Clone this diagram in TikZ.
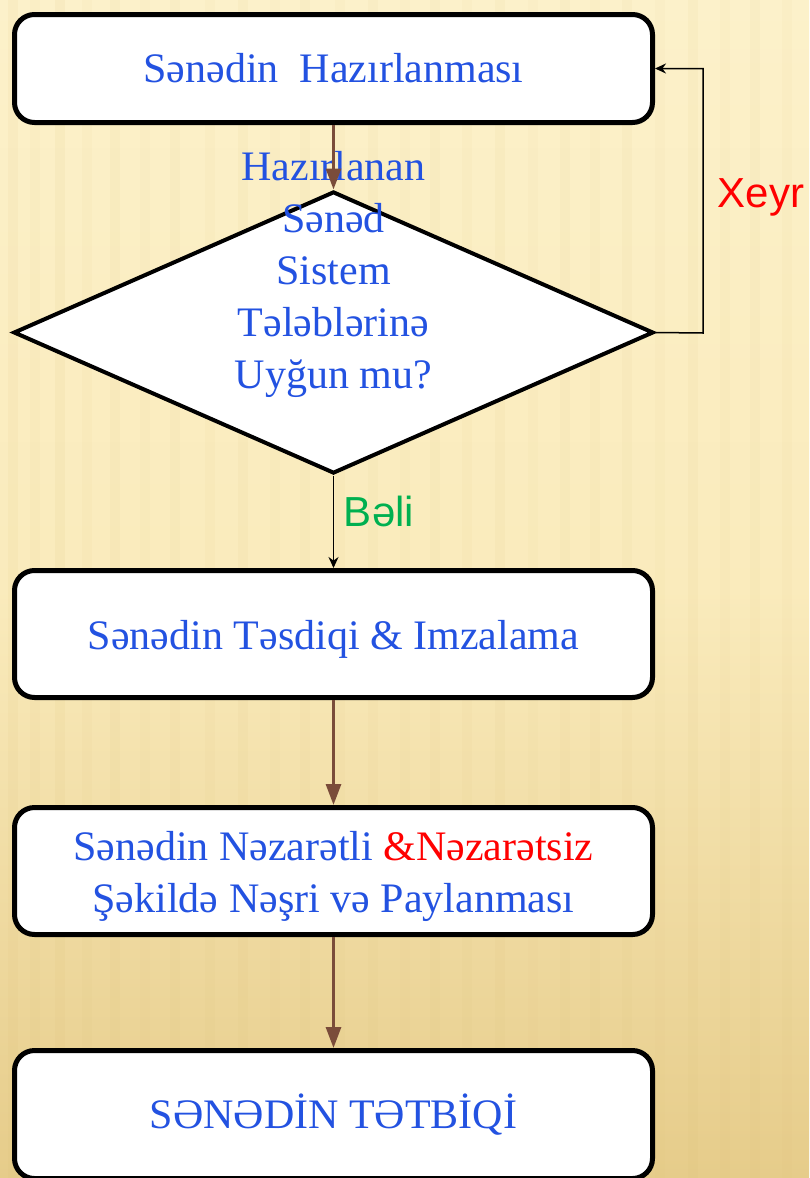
\documentclass[tikz,border=0pt]{standalone}
\usepackage{fontspec}
\setmainfont{Liberation Serif}
\newfontfamily\lsans{Liberation Sans}
\usetikzlibrary{shapes.geometric,arrows.meta}
\definecolor{txtblue}{RGB}{35,82,225}
\definecolor{arrbrown}{RGB}{122,76,58}
\definecolor{okgreen}{RGB}{0,176,80}
\definecolor{bgtop}{RGB}{252,241,202}
\definecolor{bgmid}{RGB}{250,235,188}
\definecolor{bgbot}{RGB}{230,204,138}
\definecolor{stripe}{RGB}{215,185,110}
\newcommand{\lowerit}[1]{\raisebox{-5pt}[\height][\depth]{#1}}
\tikzset{
  stepbox/.style={draw=black, fill=white, line width=5pt, rounded corners=20pt,
    minimum width=638pt, inner sep=0pt, align=center, text=txtblue,
    font=\fontsize{42}{52}\selectfont},
  decision/.style={draw=black, fill=white, line width=4pt, diamond, inner sep=0pt,
    minimum width=640pt, minimum height=282pt},
  brownarrow/.style={draw=arrbrown, line width=3pt, -{Triangle[length=21pt,width=15pt]}, arrbrown},
  thinarrow/.style={draw=black, line width=1.5pt, -{Stealth[length=11pt,width=10pt]}},
  lbl/.style={font=\lsans\fontsize{42}{50}\selectfont}
}
\begin{document}
\begin{tikzpicture}[x=1pt,y=-1pt]
\useasboundingbox (0,0) rectangle (809,1178);
% background
\shade[top color=bgtop, bottom color=bgbot, middle color=bgmid] (0,0) rectangle (809,1178);
\foreach \x/\o in {8/0.08,30/0.05,55/0.09,82/0.05,110/0.07,140/0.04,170/0.06,205/0.05,238/0.07,270/0.04,300/0.06,335/0.05,368/0.06,400/0.04,430/0.06,462/0.05,495/0.07,528/0.04,560/0.06,590/0.05,622/0.06,655/0.04,688/0.07,720/0.05,750/0.06,782/0.05}
  \fill[stripe, opacity=\o] (\x,0) rectangle ++(10,1178);
% nodes
\node[stepbox, minimum height=108pt] (b1) at (333.5,68.5) {Sənədin\ \ Hazırlanması};
\node[decision] (d) at (333.5,332.5) {};
\node[stepbox, minimum height=127pt] (b2) at (333.5,634) {\lowerit{Sənədin Təsdiqi \& Imzalama}};
\node[stepbox, minimum height=127pt] (b3) at (333.5,871) {\lowerit{\begin{tabular}{@{}c@{}}Sənədin Nəzarətli \textcolor{red}{\&Nəzarətsiz}\\Şəkildə Nəşri və Paylanması\end{tabular}}};
\node[stepbox, minimum height=128pt] (b4) at (333.5,1114.5) {SƏNƏDİN TƏTBİQİ};
\node[align=center, text=txtblue, font=\fontsize{42}{52}\selectfont, inner sep=0pt] (dt) at (333.5,274)
  {Hazırlanan\\Sənəd\\Sistem\\Tələblərinə\\Uyğun mu?};
% connectors
\draw[brownarrow] (b1.south) -- (d.north);
\draw[thinarrow] (d.south) -- (b2.north);
\draw[brownarrow] (b2.south) -- (b3.north);
\draw[brownarrow] (b3.south) -- (b4.north);
\coordinate (loop) at (703,333);
\draw[thinarrow] (d.east) -- (loop) |- (b1.east);
% labels
\node[lbl, text=red] (xeyr) at (761,197) {Xeyr};
\node[lbl, text=okgreen] (beli) at (379,511) {Bəli};
\end{tikzpicture}
\end{document}
